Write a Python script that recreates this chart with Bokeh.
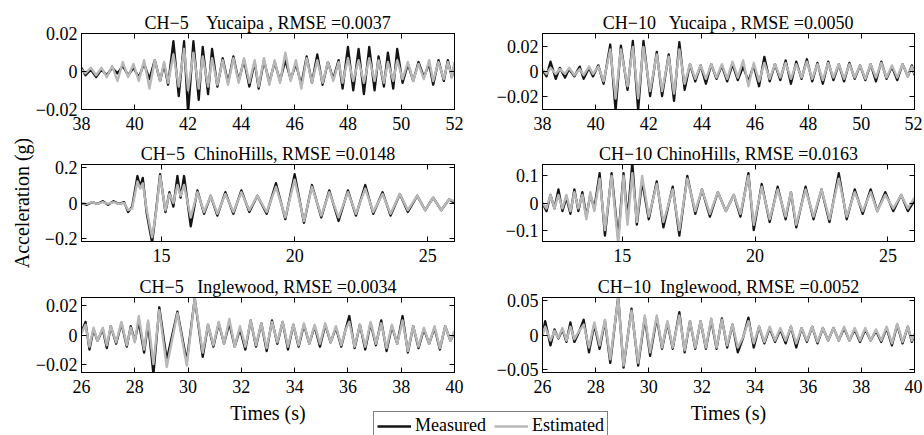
from math import pi
import numpy as np
from bokeh.plotting import figure
from bokeh.models import (Range1d, FixedTicker, CustomJSTickFormatter, Label,
                          Legend, LegendItem, ColumnDataSource, Title, LinearAxis)
from bokeh.layouts import column, row
from bokeh.embed import file_html
from bokeh.resources import INLINE

# ---------------- data ----------------
titles = [
    "CH\u22125\u00a0\u00a0\u00a0 Yucaipa , RMSE =0.0037",
    "CH\u221210\u00a0\u00a0 Yucaipa , RMSE =0.0050",
    "CH\u22125\u00a0 ChinoHills, RMSE =0.0148",
    "CH\u221210 ChinoHills, RMSE =0.0163",
    "CH\u22125\u00a0\u00a0 Inglewood, RMSE =0.0034",
    "CH\u221210\u00a0 Inglewood, RMSE =0.0052",
]
legend_labels = ["Measured", "Estimated"]
x_label = "Times (s)"
y_label = "Acceleration (g)"

xticks_yuc = [38, 40, 42, 44, 46, 48, 50, 52]
xticks_chino = [15, 20, 25]
xticks_ingle = [26, 28, 30, 32, 34, 36, 38, 40]
yticks = [[-0.02, 0, 0.02], [-0.02, 0, 0.02], [-0.2, 0, 0.2],
          [-0.1, 0, 0.1], [-0.02, 0, 0.02], [-0.05, 0, 0.05]]
xlims = [(38, 52), (38, 52), (12, 26), (12, 26), (26, 40), (26, 40)]
ylims = [(-0.0201, 0.0201), (-0.031, 0.031), (-0.214, 0.214),
         (-0.142, 0.142), (-0.0257, 0.0257), (-0.054, 0.054)]

# Panel 1: CH-5 Yucaipa
t1 = [38.0, 38.15, 38.35, 38.55, 38.75, 38.95, 39.15, 39.35, 39.55, 39.75, 39.95,
      40.15, 40.35, 40.55, 40.75, 40.95, 41.1, 41.25, 41.45, 41.65, 41.85, 42.0,
      42.2, 42.4, 42.55, 42.75, 42.9, 43.1, 43.3, 43.5, 43.7, 43.9, 44.1, 44.3,
      44.5, 44.65, 44.85, 45.05, 45.25, 45.45, 45.65, 45.85, 46.05, 46.25, 46.45,
      46.65, 46.85, 47.05, 47.25, 47.45, 47.65, 47.8, 48.0, 48.2, 48.4, 48.6,
      48.8, 49.0, 49.15, 49.35, 49.5, 49.7, 49.85, 50.05, 50.25, 50.45, 50.65,
      50.85, 51.05, 51.2, 51.4, 51.6, 51.75, 51.9, 52.0]
m1 = [0.002, -0.002, 0.001, -0.003, 0.001, -0.002, 0.002, -0.001, 0.003, -0.002, 0.002,
      -0.003, 0.004, -0.004, 0.006, -0.005, 0.004, -0.007, 0.016, -0.013, 0.016, -0.022,
      0.016, -0.015, 0.013, -0.012, 0.012, -0.008, 0.007, -0.006, 0.008, -0.005, 0.006, -0.008,
      0.005, -0.009, 0.006, -0.006, 0.005, -0.005, 0.006, -0.004, 0.004, -0.007, 0.008,
      -0.006, 0.009, -0.007, 0.005, -0.004, 0.006, -0.009, 0.013, -0.010, 0.012, -0.012,
      0.013, -0.010, 0.008, -0.008, 0.010, -0.009, 0.012, -0.006, 0.004, -0.005, 0.005,
      -0.003, 0.004, -0.007, 0.006, -0.005, 0.006, -0.003, 0.004]
e1 = [0.001, -0.001, 0.002, -0.002, 0.002, -0.003, 0.003, -0.005, 0.005, -0.003, 0.004,
      -0.005, 0.006, -0.009, 0.006, -0.005, 0.005, -0.006, 0.009, -0.008, 0.012, -0.010,
      0.010, -0.009, 0.008, -0.008, 0.007, -0.007, 0.006, -0.007, 0.007, -0.006, 0.007, -0.006,
      0.006, -0.008, 0.007, -0.007, 0.006, -0.006, 0.010, -0.005, 0.006, -0.009, 0.007,
      -0.006, 0.006, -0.006, 0.005, -0.005, 0.005, -0.006, 0.007, -0.005, 0.006, -0.006,
      0.007, -0.005, 0.006, -0.006, 0.005, -0.005, 0.006, -0.004, 0.005, -0.005, 0.004,
      -0.004, 0.006, -0.005, 0.005, -0.004, 0.005, -0.003, 0.005]

# Panel 2: CH-10 Yucaipa
t2 = [38.0, 38.15, 38.3, 38.5, 38.65, 38.85, 39.0, 39.2, 39.4, 39.55, 39.75, 39.9,
      40.1, 40.3, 40.55, 40.75, 40.95, 41.2, 41.4, 41.6, 41.8, 42.05, 42.3, 42.5,
      42.75, 42.95, 43.15, 43.35, 43.55, 43.75, 43.95, 44.15, 44.35, 44.55, 44.75,
      44.95, 45.15, 45.35, 45.55, 45.75, 45.95, 46.15, 46.35, 46.55, 46.75, 46.95,
      47.15, 47.35, 47.55, 47.75, 47.95, 48.15, 48.35, 48.55, 48.75, 48.95, 49.15,
      49.35, 49.55, 49.75, 49.95, 50.15, 50.35, 50.55, 50.75, 50.95, 51.15, 51.35,
      51.55, 51.75, 51.9, 52.0]
m2 = [0.001, -0.004, 0.008, -0.006, 0.003, -0.005, 0.002, -0.004, 0.004, -0.006, 0.003, -0.004,
      0.005, -0.010, 0.022, -0.032, 0.021, -0.015, 0.025, -0.032, 0.025, -0.020, 0.016, -0.020,
      0.014, -0.024, 0.024, -0.015, 0.006, -0.008, 0.005, -0.010, 0.006, -0.006, 0.005,
      -0.008, 0.006, -0.007, 0.004, -0.008, 0.005, -0.012, 0.012, -0.008, 0.006, -0.007,
      0.009, -0.010, 0.008, -0.006, 0.010, -0.008, 0.007, -0.010, 0.008, -0.007, 0.006,
      -0.008, 0.007, -0.006, 0.005, -0.007, 0.006, -0.008, 0.008, -0.006, 0.004, -0.007,
      0.006, -0.004, 0.005, -0.003]
e2 = [0.002, -0.002, 0.003, -0.002, 0.002, -0.002, 0.003, -0.003, 0.002, -0.003, 0.004, -0.002,
      0.004, -0.008, 0.018, -0.022, 0.018, -0.012, 0.020, -0.022, 0.020, -0.016, 0.014, -0.016,
      0.012, -0.018, 0.018, -0.010, 0.006, -0.006, 0.005, -0.006, 0.006, -0.005, 0.006,
      -0.006, 0.008, -0.005, 0.009, -0.012, 0.007, -0.008, 0.007, -0.006, 0.006, -0.005,
      0.007, -0.006, 0.006, -0.005, 0.008, -0.006, 0.006, -0.007, 0.007, -0.005, 0.006,
      -0.006, 0.006, -0.005, 0.005, -0.006, 0.006, -0.005, 0.007, -0.005, 0.005, -0.005,
      0.006, -0.004, 0.004, -0.002]

# Panel 3: CH-5 ChinoHills
t3 = [12.0, 12.2, 12.4, 12.6, 12.8, 13.0, 13.2, 13.4, 13.6, 13.75, 13.9, 14.1, 14.2,
      14.3, 14.45, 14.65, 14.8, 14.95, 15.15, 15.3, 15.45, 15.6, 15.72, 15.85, 16.1,
      16.35, 16.6, 16.85, 17.1, 17.4, 17.7, 18.0, 18.3, 18.6, 18.95, 19.3, 19.65, 20.0,
      20.35, 20.65, 21.0, 21.3, 21.65, 22.0, 22.3, 22.65, 22.95, 23.3, 23.6, 23.95,
      24.25, 24.6, 24.9, 25.2, 25.5, 25.8, 26.0]
m3 = [0.0, -0.01, 0.005, -0.005, 0.01, -0.01, 0.01, -0.005, 0.005, -0.05, -0.02, 0.15, 0.09,
      0.14, -0.06, -0.22, -0.04, 0.16, -0.05, 0.06, -0.02, 0.15, 0.03, 0.15, -0.13,
      0.07, -0.06, 0.04, -0.07, 0.06, -0.06, 0.07, -0.05, 0.04, -0.06, 0.11, -0.09, 0.16,
      -0.11, 0.10, -0.08, 0.07, -0.10, 0.07, -0.07, 0.10, -0.06, 0.06, -0.07, 0.05,
      -0.05, 0.04, -0.04, 0.03, -0.04, 0.02, 0.0]
e3 = [0.0, -0.005, 0.005, -0.005, 0.005, -0.005, 0.005, -0.005, 0.0, -0.04, -0.03, 0.12, 0.08,
      0.11, -0.04, -0.19, -0.05, 0.15, -0.04, 0.05, 0.0, 0.10, 0.04, 0.10, -0.08,
      0.06, -0.05, 0.04, -0.06, 0.05, -0.05, 0.06, -0.04, 0.04, -0.05, 0.09, -0.08, 0.13,
      -0.10, 0.09, -0.07, 0.06, -0.08, 0.06, -0.06, 0.08, -0.05, 0.05, -0.06, 0.05,
      -0.04, 0.04, -0.04, 0.03, -0.04, 0.02, 0.01]

# Panel 4: CH-10 ChinoHills
t4 = [12.0, 12.15, 12.3, 12.45, 12.6, 12.75, 12.9, 13.05, 13.2, 13.35, 13.5, 13.65, 13.8,
      13.95, 14.15, 14.35, 14.6, 14.85, 15.05, 15.2, 15.38, 15.55, 15.75, 16.0, 16.3,
      16.55, 16.9, 17.15, 17.45, 17.75, 18.0, 18.3, 18.6, 18.9, 19.2, 19.45, 19.75,
      19.95, 20.25, 20.55, 20.85, 21.15, 21.35, 21.55, 21.9, 22.2, 22.5, 22.8, 23.15,
      23.45, 23.75, 24.05, 24.35, 24.6, 24.9, 25.2, 25.5, 25.75, 26.0]
m4 = [0.0, -0.03, 0.03, -0.02, 0.05, -0.03, 0.02, -0.04, 0.05, -0.03, 0.04, -0.05, 0.03,
      -0.02, 0.11, -0.12, 0.11, -0.13, 0.11, -0.06, 0.15, -0.08, 0.08, -0.06, 0.08,
      -0.09, 0.06, -0.12, 0.10, -0.04, 0.05, -0.05, 0.04, -0.03, 0.03, -0.05, 0.11,
      -0.10, 0.07, -0.07, 0.06, -0.06, 0.04, -0.09, 0.06, -0.06, 0.05, -0.07, 0.11,
      -0.06, 0.05, -0.04, 0.05, -0.03, 0.04, -0.03, 0.03, -0.03, 0.01]
e4 = [0.0, -0.02, 0.03, -0.02, 0.03, -0.02, 0.03, -0.03, 0.04, -0.02, 0.03, -0.06, 0.04,
      -0.03, 0.09, -0.10, 0.10, -0.15, 0.10, -0.08, 0.11, -0.07, 0.10, -0.05, 0.07,
      -0.07, 0.05, -0.10, 0.09, -0.03, 0.05, -0.04, 0.04, -0.03, 0.03, -0.04, 0.10,
      -0.08, 0.06, -0.06, 0.05, -0.05, 0.04, -0.08, 0.05, -0.05, 0.05, -0.06, 0.09,
      -0.05, 0.04, -0.03, 0.04, -0.03, 0.03, -0.02, 0.03, -0.02, 0.02]

# Panel 5: CH-5 Inglewood
t5 = [26.0, 26.15, 26.3, 26.45, 26.6, 26.8, 26.95, 27.1, 27.3, 27.5, 27.7, 27.85, 28.0,
      28.15, 28.35, 28.5, 28.7, 28.92, 29.2, 29.6, 29.95, 30.25, 30.55, 30.75, 30.95,
      31.15, 31.35, 31.55, 31.75, 31.95, 32.15, 32.35, 32.55, 32.75, 32.95, 33.15,
      33.35, 33.55, 33.75, 33.95, 34.15, 34.35, 34.55, 34.75, 34.95, 35.15, 35.35,
      35.55, 35.75, 35.9, 36.05, 36.25, 36.45, 36.65, 36.85, 37.05, 37.25, 37.45,
      37.65, 37.85, 38.05, 38.25, 38.45, 38.65, 38.85, 39.05, 39.25, 39.45, 39.65,
      39.85, 40.0]
m5 = [0.002, 0.009, -0.010, 0.004, -0.004, 0.004, -0.009, 0.006, -0.006, 0.008, -0.008, 0.006, -0.004,
      0.009, -0.012, 0.008, -0.027, 0.019, -0.017, 0.016, -0.018, 0.025, -0.015, 0.007, -0.008,
      0.008, -0.006, 0.008, -0.008, 0.004, -0.010, 0.010, -0.008, 0.008, -0.011, 0.010,
      -0.006, 0.009, -0.010, 0.007, -0.008, 0.007, -0.006, 0.006, -0.008, 0.007, -0.005,
      0.005, -0.008, 0.003, 0.013, -0.009, 0.007, -0.010, 0.008, -0.007, 0.010, -0.011,
      0.006, -0.006, 0.013, -0.012, 0.006, -0.009, 0.004, -0.006, 0.005, -0.010, 0.006,
      -0.004, 0.002]
e5 = [0.001, 0.007, -0.008, 0.005, -0.004, 0.005, -0.007, 0.006, -0.005, 0.009, -0.007, 0.005, -0.005,
      0.013, -0.010, 0.010, -0.020, 0.017, -0.022, 0.015, -0.021, 0.025, -0.012, 0.007, -0.007,
      0.009, -0.006, 0.011, -0.008, 0.006, -0.008, 0.010, -0.007, 0.008, -0.009, 0.009,
      -0.005, 0.009, -0.008, 0.007, -0.007, 0.008, -0.006, 0.007, -0.006, 0.008, -0.005,
      0.006, -0.007, 0.003, 0.009, -0.008, 0.007, -0.008, 0.009, -0.006, 0.008, -0.009,
      0.007, -0.006, 0.010, -0.011, 0.006, -0.008, 0.005, -0.006, 0.006, -0.009, 0.006,
      -0.004, 0.003]

# Panel 6: CH-10 Inglewood
t6 = [26.0, 26.1, 26.3, 26.45, 26.6, 26.75, 26.9, 27.05, 27.2, 27.35, 27.55, 27.75, 27.95,
      28.15, 28.35, 28.55, 28.85, 29.05, 29.35, 29.6, 29.85, 30.05, 30.3, 30.5, 30.7,
      30.9, 31.15, 31.35, 31.55, 31.75, 31.95, 32.15, 32.35, 32.55, 32.75, 32.95, 33.15,
      33.35, 33.55, 33.75, 33.95, 34.15, 34.35, 34.55, 34.75, 34.95, 35.15, 35.35, 35.55,
      35.75, 35.95, 36.15, 36.35, 36.55, 36.75, 36.95, 37.15, 37.35, 37.55, 37.75, 37.95,
      38.15, 38.35, 38.55, 38.75, 38.95, 39.15, 39.35, 39.55, 39.75, 39.9, 40.0]
m6 = [0.000, 0.020, -0.015, 0.008, -0.005, 0.008, -0.010, 0.018, -0.010, 0.002, 0.022, -0.025, 0.015,
      -0.020, 0.020, -0.040, 0.055, -0.047, 0.038, -0.044, 0.025, -0.030, 0.025, -0.020, 0.018,
      -0.020, 0.033, -0.025, 0.020, -0.020, 0.020, -0.020, 0.022, -0.020, 0.024, -0.018, 0.015,
      -0.025, -0.004, 0.025, -0.018, 0.012, -0.012, 0.010, -0.010, 0.008, -0.012, 0.012, -0.018,
      0.010, -0.010, 0.012, -0.012, 0.010, -0.008, 0.010, -0.008, 0.010, -0.008, 0.008, -0.010,
      0.008, -0.008, 0.006, -0.010, 0.010, -0.015, 0.015, -0.012, 0.012, -0.010, 0.000]
e6 = [0.000, 0.012, -0.008, 0.006, -0.004, 0.010, -0.008, 0.012, -0.006, 0.004, 0.015, -0.018, 0.018,
      -0.015, 0.022, -0.035, 0.053, -0.044, 0.035, -0.040, 0.028, -0.025, 0.028, -0.018, 0.020,
      -0.018, 0.028, -0.022, 0.020, -0.018, 0.020, -0.018, 0.024, -0.018, 0.022, -0.015, 0.015,
      -0.018, -0.003, 0.020, -0.012, 0.012, -0.010, 0.012, -0.008, 0.010, -0.008, 0.012, -0.012,
      0.010, -0.008, 0.012, -0.010, 0.010, -0.008, 0.010, -0.008, 0.012, -0.008, 0.010, -0.008,
      0.010, -0.008, 0.008, -0.008, 0.012, -0.012, 0.016, -0.010, 0.012, -0.008, 0.002]

times = [t1, t2, t3, t4, t5, t6]
measured = [m1, m2, m3, m4, m5, m6]
estimated = [e1, e2, e3, e4, e5, e6]
xticks = [xticks_yuc, xticks_yuc, xticks_chino, xticks_chino, xticks_ingle, xticks_ingle]

# ---------------- styling / layout ----------------
FONT = "Liberation Serif"
BLACK = "#141414"
GRAY = "#b8b8b8"

LEFT_W, RIGHT_W = 468, 454
LEFT_BL, LEFT_BR = 81, 14
RIGHT_BL, RIGHT_BR = 74, 8
ROW_H = [139, 133, 127]
ROW_BT = [33, 25, 25]
ROW_BB = [30, 31, 27]
LEG_H = 36

yfmt_code = """
if (Math.abs(tick) < 1e-12) { return "0"; }
const s = String(parseFloat(Math.abs(tick).toPrecision(6)));
return (tick < 0 ? "\\u2212" : "") + s;
"""


def mirror_axis(ticks):
    ax = LinearAxis(ticker=FixedTicker(ticks=ticks),
                    formatter=CustomJSTickFormatter(code="return '';"))
    ax.major_tick_in = 5
    ax.major_tick_out = 0
    ax.minor_tick_line_color = None
    ax.major_tick_line_color = "black"
    ax.axis_line_color = "black"
    ax.major_label_text_font_size = "0px"
    ax.major_label_standoff = 0
    return ax


def make_panel(i):
    left = (i % 2 == 0)
    r = i // 2
    p = figure(width=LEFT_W if left else RIGHT_W, height=ROW_H[r],
               x_range=Range1d(*xlims[i]), y_range=Range1d(*ylims[i]),
               toolbar_location=None, output_backend="svg",
               min_border_left=LEFT_BL if left else RIGHT_BL,
               min_border_right=LEFT_BR if left else RIGHT_BR,
               min_border_top=ROW_BT[r], min_border_bottom=ROW_BB[r],
               title=titles[i])
    p.title.align = "center"
    p.title.text_font = FONT
    p.title.text_font_size = "18px"
    p.title.text_font_style = "normal"
    p.title.text_color = "black"
    p.title.standoff = 2
    p.title.offset = 0
    p.grid.visible = False
    p.background_fill_color = "white"
    p.border_fill_color = "white"
    p.outline_line_color = "black"
    p.outline_line_width = 1
    p.outline_line_alpha = 1

    src = ColumnDataSource(dict(t=times[i], m=measured[i], e=estimated[i]))
    p.line("t", "m", source=src, line_color=BLACK, line_width=2.3, line_join="round")
    p.line("t", "e", source=src, line_color=GRAY, line_width=2.4, line_join="round")

    p.xaxis.ticker = FixedTicker(ticks=xticks[i])
    p.yaxis.ticker = FixedTicker(ticks=yticks[i])
    p.yaxis.formatter = CustomJSTickFormatter(code=yfmt_code)
    p.axis.major_tick_in = 5
    p.axis.major_tick_out = 0
    p.axis.minor_tick_line_color = None
    p.axis.major_tick_line_color = "black"
    p.axis.axis_line_color = "black"
    p.axis.major_label_text_font = FONT
    p.axis.major_label_text_font_size = "18px"
    p.axis.major_label_text_color = "black"
    p.xaxis.major_label_standoff = 7
    p.yaxis.major_label_standoff = 4

    # mirrored tick marks on the top and right edges of the box
    p.add_layout(mirror_axis(xticks[i]), "above")
    p.add_layout(mirror_axis(yticks[i]), "right")

    if i == 2:
        yt = Title(text=y_label, align="center", text_font=FONT,
                   text_font_size="20px", text_font_style="normal",
                   text_color="black", standoff=14, offset=-10,
                   vertical_align="top")
        p.add_layout(yt, "left")
    return p


panels = [make_panel(i) for i in range(6)]

# bottom strip with axis titles and legend
TOTAL_W = LEFT_W + RIGHT_W
pl = figure(width=TOTAL_W, height=LEG_H, x_range=Range1d(0, TOTAL_W),
            y_range=Range1d(0, LEG_H), toolbar_location=None, output_backend="svg",
            min_border=0, x_axis_type=None, y_axis_type=None)
pl.grid.visible = False
pl.outline_line_color = None
pl.border_fill_color = "white"
pl.background_fill_color = "white"

nan2 = np.array([np.nan, np.nan])
r_m = pl.line(x=nan2, y=nan2, line_color=BLACK, line_width=2.3)
r_e = pl.line(x=nan2, y=nan2, line_color=GRAY, line_width=2.4)

for cx in (LEFT_BL + (LEFT_W - LEFT_BL - LEFT_BR) / 2,
           LEFT_W + RIGHT_BL + (RIGHT_W - RIGHT_BL - RIGHT_BR) / 2):
    pl.add_layout(Label(x=cx, y=LEG_H - 13, text=x_label, text_align="center",
                        text_baseline="middle", text_font=FONT,
                        text_font_size="20px", text_color="black"))

legend = Legend(items=[LegendItem(label=legend_labels[0], renderers=[r_m]),
                       LegendItem(label=legend_labels[1], renderers=[r_e])],
                orientation="horizontal", location=(373, -5),
                border_line_color="black", border_line_width=1,
                background_fill_color="white", background_fill_alpha=1.0,
                label_text_font=FONT, label_text_font_size="18px",
                label_text_color="black",
                glyph_width=34, glyph_height=20, label_height=20,
                label_standoff=4, spacing=8, padding=3, margin=0)
pl.add_layout(legend)

layout = column(row(panels[0], panels[1]), row(panels[2], panels[3]),
                row(panels[4], panels[5]), pl)

open("out.html", "w").write(file_html(layout, INLINE))
